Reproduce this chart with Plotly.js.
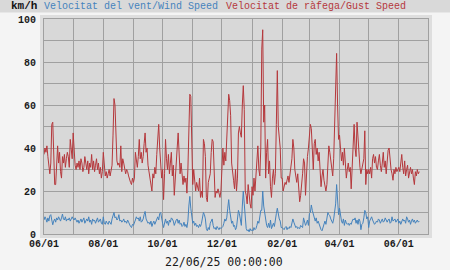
<!DOCTYPE html>
<html>
<head>
<meta charset="utf-8">
<script src="https://cdn.plot.ly/plotly-3.0.1.min.js"></script>
<style>html,body{margin:0;padding:0;background:#f4f4f4;}#chart{width:450px;height:270px;}</style>
</head>
<body>
<div id="chart"></div>
<script>
const startDate = [2024, 5, 1];
const unitLabel = 'km/h';
const windLabel = 'Velocitat del vent/Wind Speed';
const gustLabel = 'Velocitat de ràfega/Gust Speed';
const timeLabel = '22/06/25 00:00:00';

const gustSpeed = [
 37,40,38,41,36,30,28,33,51,52,37,23,23,35,41,33,38,29,26,36,33,37,31,35,38,36,31,44,40,35,
 47,36,32,30,33,31,34,30,35,33,29,31,36,33,30,34,28,33,31,37,30,34,29,32,35,30,33,28,31,26,29,
 38,30,27,29,26,28,30,27,29,32,46,63,60,47,34,32,33,31,41,29,35,33,30,28,30,29,27,25,24,23,26,
 24,26,38,33,31,36,44,35,38,33,36,42,47,38,40,32,29,26,24,20,28,26,31,28,37,45,51,40,30,26,
 30,16,28,44,35,30,37,28,33,38,27,32,18,24,30,40,47,38,28,33,25,23,27,24,26,19,30,51,65,64,46,
 23,30,22,20,24,22,20,26,17,20,17,44,42,36,17,15,24,26,28,38,44,43,22,17,20,19,21,18,17,20,
 32,40,32,38,34,45,60,65,62,55,33,30,25,21,30,20,26,47,50,47,45,60,69,58,20,18,14,23,18,14,12,
 22,18,26,20,28,33,41,30,27,40,86,95,52,60,26,38,44,28,34,22,17,26,30,23,28,51,76,50,45,40,26,
 26,20,22,24,23,25,27,24,28,30,35,44,40,30,26,24,28,22,15,18,26,28,35,33,18,30,36,40,
 45,51,49,38,30,42,44,37,40,34,38,30,22,27,30,25,22,20,23,36,41,38,35,30,27,35,55,69,84,60,44,
 46,41,34,38,32,40,30,26,30,33,29,31,21,33,44,51,40,36,52,44,34,31,28,30,32,35,48,23,30,28,
 30,28,31,26,35,37,33,36,31,30,34,37,32,29,33,38,31,34,28,36,39,40,33,30,28,25,30,28,31,29,30,
 31,29,33,37,31,28,34,27,30,32,26,29,31,28,30,26,23,29,27,30,28,29
];

const windSpeed = [
 6.5,8,7,5.5,7.5,6,8.5,9,6.5,4.3,6,7,5.5,7.5,6.5,8,7,6,7.5,9.3,7,6.5,8,6,7,6.5,7.5,6,7,8,
 7,6.5,7.5,6,5.5,6.5,5,6,7,5.5,6.5,7.5,5,6,7,6,8,5.5,6.5,4.5,7,6,6.5,5,6.5,7.5,5.5,6,7,5,4.5,
 8,5,4.5,6,5,4.5,6,5.5,4.5,7,8.5,10,7.5,8,6.5,7,9,6,6.5,5.5,6,7,5.5,6,5,6.5,5.5,4,3.5,3,4.5,
 4,5,6.5,8,7,7.5,6,8,5.5,6,7,9,10.5,7,6,5,5.5,4.5,6,3.5,5,6,4.5,5.5,7,8,6.5,9.5,10,6,
 5,3,4.5,7,5,6,4,6.5,5.5,7.5,7,6,4,5.5,6.5,7,5,6.5,4.5,5,3.5,4,5.5,3.5,4.5,3,6,13,17.5,12,7,
 5,6,4,5,3.5,4,3,4.5,3.5,5,7,10,9,7,2.5,1.5,3,2,5,6.5,7,4,2.5,3,2,3.5,2.5,2,3,2.5,
 3,3.5,5,7,6,7.5,12,16,11,8,5,6,3.5,4,2,3,6,11,9.5,6,4,13,20,14,7,2.5,1.5,2,1,2.5,1.5,
 2,1.5,3,2,2.5,4,6,5,9,11,11,20,13,9,7,4,3,5,3,6.5,2.5,4,5,3.5,8,9.5,12,8,7,6,3,
 3,2.5,2,3,3.5,2,3,2.5,3.5,3,6,7,5.5,4,3,3.5,2.5,3,2.5,4,3.5,3,7.5,6,4,5,6.5,4,
 9.5,10,13.5,11,9,8,6,7.5,5,6,4.5,3,2,1.5,3,5.5,6,4.5,7,10,9,8.5,7,6,5,7,11,14,23,13,9,
 12,8,6,5,7,4,6.5,5,4.5,5,4,5,4.5,6,7,6.5,7.5,5,6.5,4.5,7,6,2,4.5,5,7.5,11,10,7,8,
 3,6,7.5,8,6.5,5.5,4.5,5,6,5.5,7,6.5,5,6,7,5.5,6,7.5,6,5.5,6.5,7,5,5.5,8,6,6.5,7,5.5,6.5,7,
 5,6,4.5,5.5,7,6,6.5,5,8,7,5.5,6.5,4.5,6,7,5.5,6.5,5,6,6.5,5.5,6
];

function dayString(i) {
  const d = new Date(Date.UTC(startDate[0], startDate[1], startDate[2] + i));
  return d.toISOString().slice(0, 10);
}
const dates = gustSpeed.map((_, i) => dayString(i));

const blue = '#4583bd';
const red = '#b5383c';
const gridCol = '#a0a0a0';

const W = 450, H = 270, L = 44, R = 22, T = 19, B = 36;
const PW = W - L - R, PH = H - T - B;
const px = x => (x - L) / PW;
const py = y => (H - B - y) / PH;

const traces = [
  {x: dates, y: gustSpeed, type: 'scatter', mode: 'lines', line: {color: red, width: 1}, hoverinfo: 'skip'},
  {x: dates, y: windSpeed, type: 'scatter', mode: 'lines', line: {color: blue, width: 1}, hoverinfo: 'skip'}
];

const tickFont = {family: 'Liberation Mono', size: 10, color: '#1a1a1a', weight: 'bold'};

const layout = {
  width: W, height: H,
  margin: {l: L, r: R, t: T, b: B, pad: 0},
  paper_bgcolor: '#f4f4f4',
  plot_bgcolor: '#d8d8d8',
  showlegend: false,
  xaxis: {
    type: 'date',
    range: ['2024-06-01', '2025-07-01'],
    tick0: '2024-06-01', dtick: 'M2', tickformat: '%m/%d',
    showgrid: true, gridcolor: gridCol, gridwidth: 1,
    minor: {dtick: 'M1', showgrid: true, gridcolor: gridCol, gridwidth: 1, ticks: ''},
    showline: true, mirror: true, linecolor: gridCol, linewidth: 1,
    ticks: '', tickfont: tickFont, zeroline: false, fixedrange: true
  },
  yaxis: {
    range: [0, 100], dtick: 20, tick0: 0,
    showgrid: true, gridcolor: gridCol, gridwidth: 1,
    minor: {dtick: 10, showgrid: true, gridcolor: gridCol, gridwidth: 1, ticks: ''},
    showline: true, mirror: true, linecolor: gridCol, linewidth: 1,
    ticks: '', ticklabelstandoff: 5, tickfont: tickFont, zeroline: false, fixedrange: true
  },
  shapes: [
    {type: 'rect', xref: 'paper', yref: 'paper', x0: px(0), x1: px(450), y0: py(12.5), y1: py(0),
     fillcolor: '#d9d9d9', line: {width: 0}, layer: 'below'},
    {type: 'rect', xref: 'paper', yref: 'paper', x0: px(40), x1: px(432), y0: py(238), y1: py(15),
     fillcolor: '#dedede', line: {width: 0}, layer: 'below'},
    {type: 'rect', xref: 'paper', yref: 'paper', x0: 0, x1: 1, y0: 0, y1: 1,
     fillcolor: '#d8d8d8', line: {width: 0}, layer: 'below'}
  ],
  annotations: [
    {xref: 'paper', yref: 'paper', x: px(9), y: py(6), xanchor: 'left', yanchor: 'middle', showarrow: false,
     text: unitLabel, font: {family: 'Liberation Mono', size: 11, color: '#111', weight: 'bold'}},
    {xref: 'paper', yref: 'paper', x: px(42), y: py(6), xanchor: 'left', yanchor: 'middle', showarrow: false,
     text: windLabel, font: {family: 'Liberation Mono', size: 10, color: blue}},
    {xref: 'paper', yref: 'paper', x: px(224), y: py(6), xanchor: 'left', yanchor: 'middle', showarrow: false,
     text: gustLabel, font: {family: 'Liberation Mono', size: 10, color: red}},
    {xref: 'paper', yref: 'paper', x: px(224), y: py(262), xanchor: 'center', yanchor: 'middle', showarrow: false,
     text: timeLabel, font: {family: 'DejaVu Sans Mono', size: 11.5, color: '#1a1a1a'}}
  ]
};

Plotly.newPlot('chart', traces, layout, {staticPlot: true, displayModeBar: false});
</script>
</body>
</html>
